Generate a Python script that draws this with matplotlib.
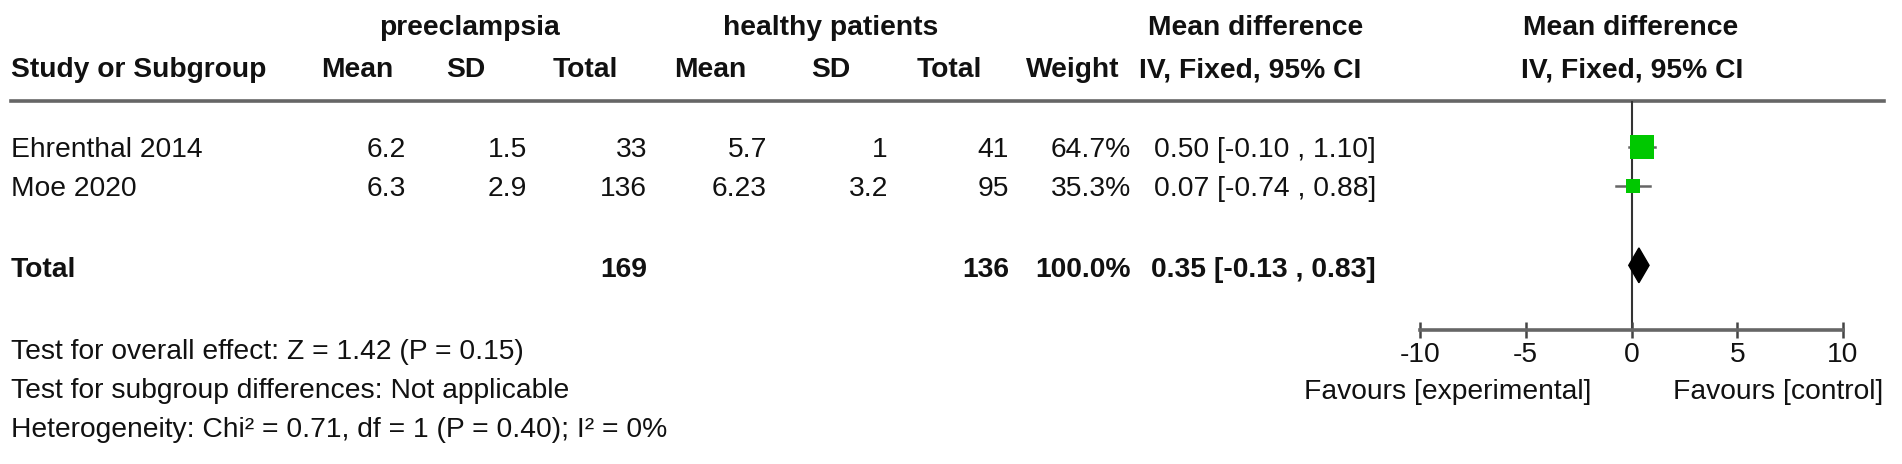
import matplotlib
matplotlib.use('Agg')
import matplotlib.pyplot as plt

plt.rcParams['font.family'] = ['Liberation Sans', 'DejaVu Sans']

# dados do forest plot
estudos = ['Ehrenthal 2014', 'Moe 2020']
pe_media = [6.2, 6.3]
pe_dp = [1.5, 2.9]
pe_n = [33, 136]
hp_media = [5.7, 6.23]
hp_dp = [1, 3.2]
hp_n = [41, 95]
pesos = [64.7, 35.3]
dif_media = [0.50, 0.07]
ic_inf = [-0.10, -0.74]
ic_sup = [1.10, 0.88]

total_pe = 169
total_hp = 136
total_peso = 100.0
total_dif = 0.35
total_inf = -0.13
total_sup = 0.83

ticks_x = [-10, -5, 0, 5, 10]
rodape = ['Test for overall effect: Z = 1.42 (P = 0.15)',
          'Test for subgroup differences: Not applicable',
          'Heterogeneity: Chi\u00b2 = 0.71, df = 1 (P = 0.40); I\u00b2 = 0%']

W, H = 1902, 464
fs = 20.3
preto = '#111111'
cinza = '#666666'
verde = '#00c800'

fig = plt.figure(figsize=(W / 100, (H + 0.4) / 100), dpi=100)

# eixo da tabela em coordenadas de pixel
ax = fig.add_axes([0, 0, 1, 1])
ax.set_xlim(0, W)
ax.set_ylim(H, 0)
ax.axis('off')

# cabeçalhos
y_h1, y_h2 = 35, 77
bold = dict(fontsize=fs, fontweight='bold', color=preto, va='baseline')
ax.text(469, y_h1, 'preeclampsia', ha='center', **bold)
ax.text(831, y_h1, 'healthy patients', ha='center', **bold)
ax.text(1256, y_h1, 'Mean difference', ha='center', **bold)
ax.text(1631, y_h1, 'Mean difference', ha='center', **bold)

ax.text(11, y_h2, 'Study or Subgroup', ha='left', **bold)
for xc, txt in zip([357, 466, 585, 710, 831, 949, 1073],
                   ['Mean', 'SD', 'Total', 'Mean', 'SD', 'Total', 'Weight']):
    ax.text(xc, y_h2, txt, ha='center', **bold)
ax.text(1250, y_h2, 'IV, Fixed, 95% CI', ha='center', **bold)
ax.text(1632, y_h2, 'IV, Fixed, 95% CI', ha='center', **bold)

ax.axhline(101, xmin=11 / W, xmax=1884 / W, color=cinza, lw=2.6)

# linhas dos estudos
col_dir = [406, 527, 647, 767, 888, 1009, 1131, 1376]
y_linhas = [157, 196]
reg = dict(fontsize=fs, color=preto, va='baseline')
for i, nome in enumerate(estudos):
    y = y_linhas[i]
    ax.text(11, y, nome, ha='left', **reg)
    valores = [f'{pe_media[i]:g}', f'{pe_dp[i]:g}', f'{pe_n[i]}',
               f'{hp_media[i]:g}', f'{hp_dp[i]:g}', f'{hp_n[i]}',
               f'{pesos[i]:.1f}%',
               f'{dif_media[i]:.2f} [{ic_inf[i]:.2f} , {ic_sup[i]:.2f}]']
    for xr, v in zip(col_dir, valores):
        ax.text(xr, y, v, ha='right', **reg)

# linha do total
y_t = 277
ax.text(11, y_t, 'Total', ha='left', **bold)
ax.text(col_dir[2], y_t, f'{total_pe}', ha='right', **bold)
ax.text(col_dir[5], y_t, f'{total_hp}', ha='right', **bold)
ax.text(col_dir[6], y_t, f'{total_peso:.1f}%', ha='right', **bold)
ax.text(col_dir[7], y_t, f'{total_dif:.2f} [{total_inf:.2f} , {total_sup:.2f}]',
        ha='right', **bold)

# rodapé
for y, txt in zip([359, 398, 437], rodape):
    ax.text(11, y, txt, ha='left', **reg)

ax.text(1448, 399, 'Favours [experimental]', ha='center', **reg)
ax.text(1778, 399, 'Favours [control]', ha='center', **reg)

# eixo do forest plot
px0, px1 = 1420, 1843
py_top, py_bot = 101, 330
fx = fig.add_axes([px0 / W, (H - py_bot) / H, (px1 - px0) / W, (py_bot - py_top) / H])
fx.set_xlim(-10, 10)
passo = 39.5
fx.set_ylim((py_bot - 147) / passo, (py_top - 147) / passo)
fx.patch.set_visible(False)
for s in ['top', 'left', 'right']:
    fx.spines[s].set_visible(False)
fx.spines['bottom'].set_color(cinza)
fx.spines['bottom'].set_linewidth(2.6)
fx.set_xticks(ticks_x)
fx.set_xticklabels([str(t) for t in ticks_x])
fx.tick_params(axis='x', direction='inout', length=11, width=1.8, color='#444444',
               labelsize=fs, labelcolor=preto, pad=3)
fx.set_yticks([])
fx.axvline(0, color='#333333', lw=1.5, zorder=1)

for i in range(len(estudos)):
    fx.plot([ic_inf[i], ic_sup[i]], [i, i], color=cinza, lw=1.8, zorder=2)
    lado = 24 * (pesos[i] / max(pesos)) ** 0.8 * 0.72
    fx.plot(dif_media[i], i, marker='s', ms=lado, color=verde, mew=0, zorder=3)

y_tot = 3
meia = 0.44
fx.fill([total_inf, total_dif, total_sup, total_dif],
        [y_tot, y_tot - meia, y_tot, y_tot + meia], color='black', zorder=3)

plt.savefig('out.png', dpi=100)
